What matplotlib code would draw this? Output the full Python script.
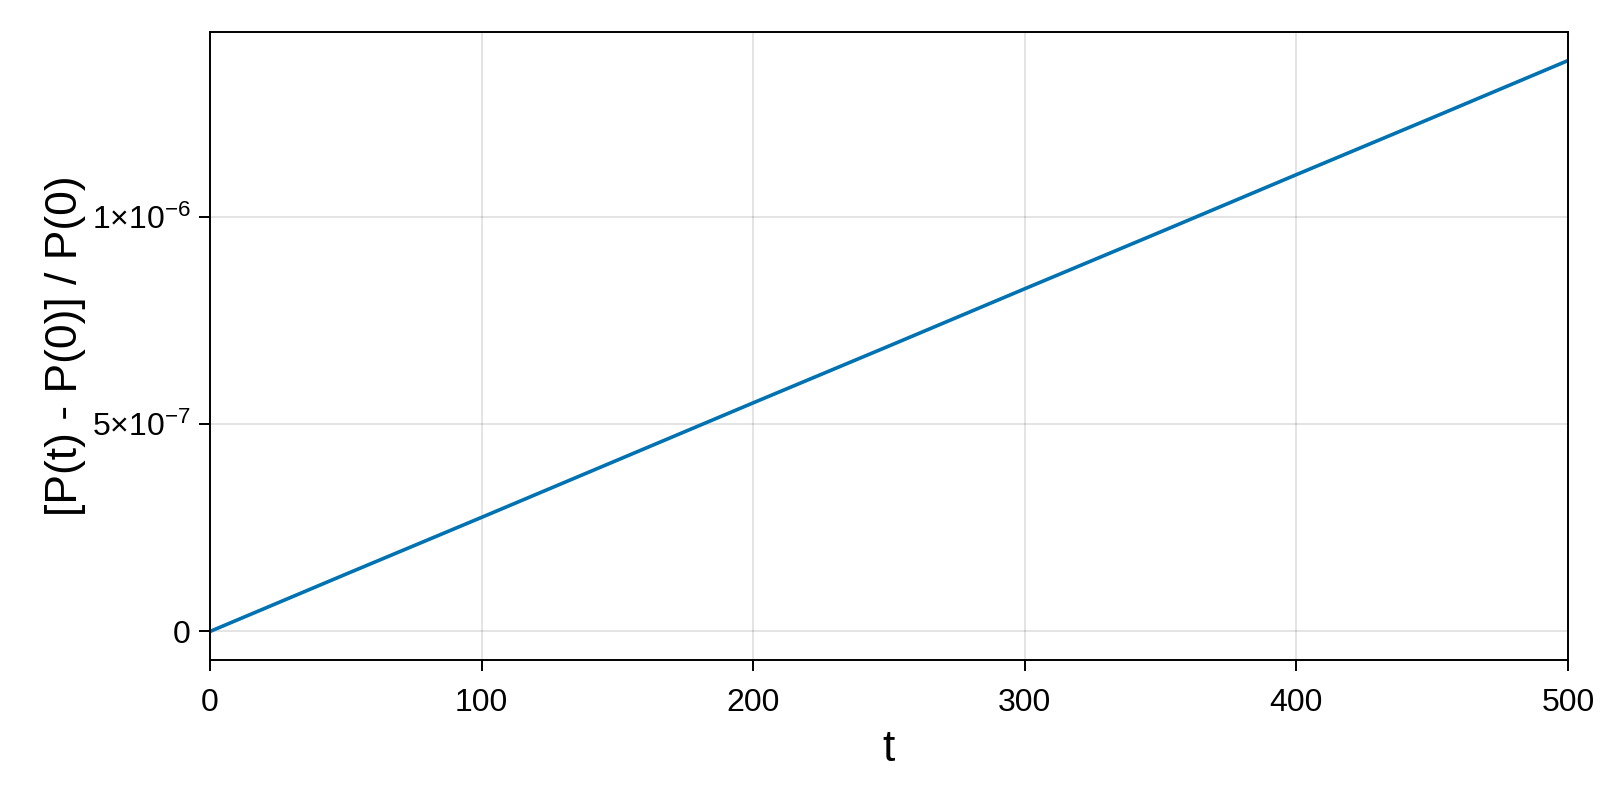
import matplotlib
matplotlib.use("Agg")
import matplotlib.pyplot as plt

t = [0, 50, 100, 150, 200, 250, 300, 350, 400, 450, 500]
rel_change = [0.0, 0.138e-6, 0.275e-6, 0.413e-6, 0.551e-6, 0.688e-6,
              0.826e-6, 0.963e-6, 1.101e-6, 1.238e-6, 1.376e-6]
xticks = [0, 100, 200, 300, 400, 500]
yticks = [0, 5e-7, 1e-6]
yticklabels = ["0", r"$5{\times}10^{-7}$", r"$1{\times}10^{-6}$"]

plt.rcParams['font.family'] = ['Liberation Sans', 'DejaVu Sans']
plt.rcParams['mathtext.fontset'] = 'custom'
plt.rcParams['mathtext.rm'] = 'Liberation Sans'
plt.rcParams['mathtext.it'] = 'Liberation Sans'
plt.rcParams['mathtext.default'] = 'regular'

fig = plt.figure(figsize=(16, 8), dpi=100)
ax = fig.add_axes([0.13125, 0.175, 0.98 - 0.13125, 0.96 - 0.175])
ax.plot(t, rel_change, color='#0072B2', lw=2.6)
ax.set_xlim(0, 500)
ymax = max(rel_change)
ax.set_ylim(-0.05 * ymax, 1.05 * ymax)
ax.set_xticks(xticks)
ax.set_xticklabels([str(v) for v in xticks])
ax.set_yticks(yticks)
ax.set_yticklabels(yticklabels)
ax.grid(True, color='black', alpha=0.11, lw=1.4)
ax.set_axisbelow(True)
for s in ax.spines.values():
    s.set_linewidth(1.4)
ax.tick_params(direction='out', length=8, width=1.4, labelsize=23, pad=6)
ax.tick_params(axis='x', pad=12)
ax.set_xlabel('t', fontsize=32, labelpad=8)
ax.set_ylabel('[P(t) - P(0)] / P(0)', fontsize=32, labelpad=4)
fig.savefig('out.png', dpi=100)
